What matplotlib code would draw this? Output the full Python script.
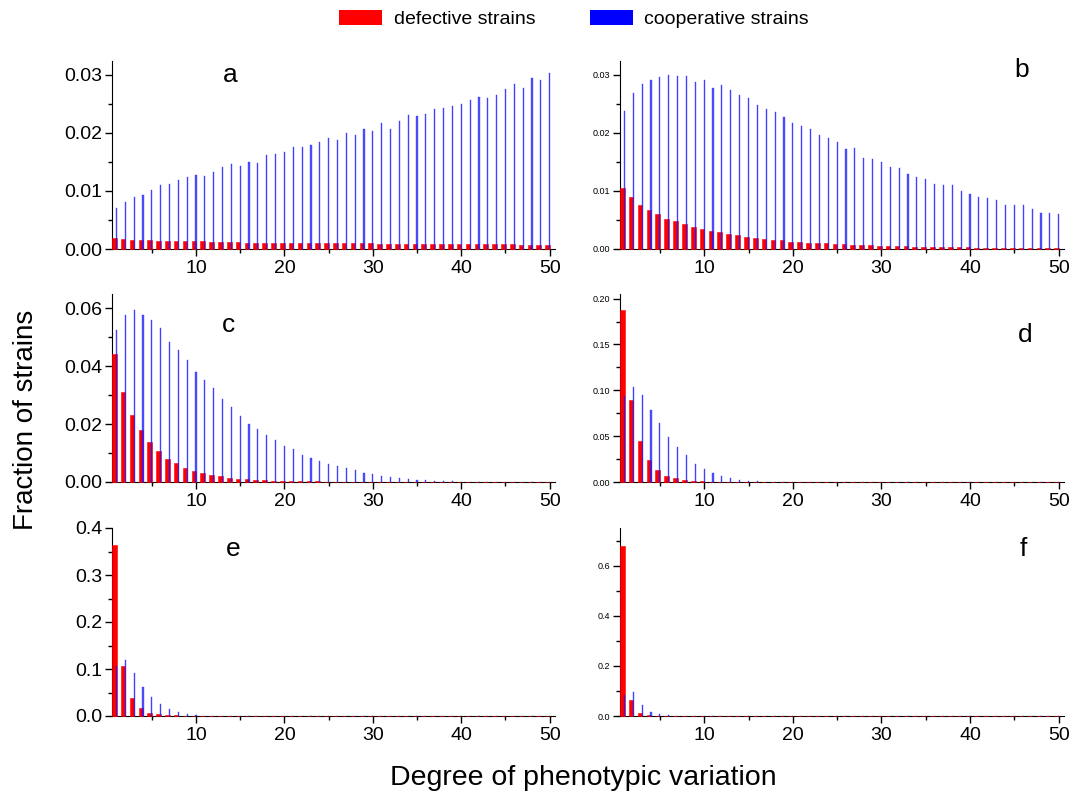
import matplotlib
matplotlib.use("Agg")
import matplotlib.pyplot as plt
from matplotlib.patches import Patch
from matplotlib.ticker import MultipleLocator
import numpy as np

plt.rcParams['font.family'] = ['Liberation Sans', 'DejaVu Sans']

degree = list(range(1, 51))

# Panel a
a_def = [0.00184, 0.00178, 0.00161, 0.00155, 0.00155, 0.00144, 0.00144, 0.00132, 0.00132, 0.00132,
         0.00132, 0.00120, 0.00120, 0.00120, 0.00120, 0.00112, 0.00112, 0.00112, 0.00112, 0.00110,
         0.00103, 0.00103, 0.00103, 0.00103, 0.00103, 0.00100, 0.00100, 0.00098, 0.00098, 0.00096,
         0.00092, 0.00092, 0.00092, 0.00092, 0.00090, 0.00090, 0.00088, 0.00088, 0.00086, 0.00086,
         0.00082, 0.00082, 0.00080, 0.00080, 0.00078, 0.00078, 0.00076, 0.00076, 0.00075, 0.00075]
a_coop = [0.00713, 0.00810, 0.00897, 0.00937, 0.01023, 0.01103, 0.01126, 0.01184, 0.01241, 0.01270,
          0.01264, 0.01328, 0.01408, 0.01466, 0.01437, 0.01506, 0.01489, 0.01621, 0.01638, 0.01678,
          0.01759, 0.01759, 0.01787, 0.01845, 0.01914, 0.01885, 0.02006, 0.01971, 0.02063, 0.02040,
          0.02178, 0.02063, 0.02207, 0.02310, 0.02299, 0.02328, 0.02420, 0.02431, 0.02471, 0.02506,
          0.02563, 0.02626, 0.02609, 0.02661, 0.02764, 0.02845, 0.02770, 0.02954, 0.02908, 0.03029]

# Panel b
b_def = [0.01046, 0.00902, 0.00764, 0.00678, 0.00603, 0.00523, 0.00477, 0.00437, 0.00385, 0.00345,
         0.00316, 0.00287, 0.00253, 0.00236, 0.00207, 0.00195, 0.00178, 0.00161, 0.00149, 0.00126,
         0.00115, 0.00103, 0.00098, 0.00098, 0.00080, 0.00080, 0.00075, 0.00063, 0.00063, 0.00052,
         0.00052, 0.00046, 0.00046, 0.00040, 0.00040, 0.00040, 0.00034, 0.00029, 0.00029, 0.00029,
         0.00025, 0.00025, 0.00023, 0.00023, 0.00021, 0.00021, 0.00019, 0.00019, 0.00017, 0.00017]
b_coop = [0.02385, 0.02690, 0.02850, 0.02914, 0.02966, 0.03000, 0.02983, 0.02989, 0.02885, 0.02920,
          0.02776, 0.02822, 0.02736, 0.02655, 0.02598, 0.02489, 0.02414, 0.02368, 0.02270, 0.02178,
          0.02126, 0.02075, 0.01971, 0.01920, 0.01845, 0.01730, 0.01741, 0.01569, 0.01546, 0.01506,
          0.01414, 0.01391, 0.01293, 0.01241, 0.01213, 0.01115, 0.01098, 0.01103, 0.00994, 0.00954,
          0.00902, 0.00885, 0.00845, 0.00764, 0.00764, 0.00753, 0.00695, 0.00626, 0.00626, 0.00609]

# Panel c
c_def = [0.0442, 0.0310, 0.0231, 0.0181, 0.0137, 0.0106, 0.0081, 0.0065, 0.0048, 0.0039,
         0.0031, 0.0024, 0.0020, 0.0014, 0.0012, 0.0009, 0.0008, 0.0006, 0.0005, 0.0005,
         0.0003, 0.0003, 0.0002, 0.0002, 0.00015, 0.00015, 0.0001, 0.0001, 0.0001, 0.00008,
         0.00008, 0.00006, 0.00006, 0.00005, 0.00005, 0.00004, 0.00004, 0.00003, 0.00003, 0.00003,
         0.00002, 0.00002, 0.00002, 0.00002, 0.00001, 0.00001, 0.00001, 0.00001, 0.00001, 0.00001]
c_coop = [0.0525, 0.0576, 0.0594, 0.0577, 0.0559, 0.0531, 0.0484, 0.0458, 0.0421, 0.0379,
          0.0351, 0.0326, 0.0288, 0.0258, 0.0227, 0.0202, 0.0182, 0.0163, 0.0146, 0.0123,
          0.0114, 0.0092, 0.0084, 0.0072, 0.0062, 0.0054, 0.0048, 0.0040, 0.0031, 0.0027,
          0.0022, 0.0017, 0.0015, 0.0012, 0.0008, 0.0006, 0.0005, 0.0003, 0.0002, 0.00015,
          0.0001, 0.0001, 0.00008, 0.00006, 0.00005, 0.00004, 0.00003, 0.00002, 0.00002, 0.00001]

# Panel d
d_def = [0.1876, 0.0889, 0.0452, 0.0237, 0.0128, 0.0069, 0.0040, 0.0022, 0.0011, 0.0007,
         0.0004, 0.0002, 0.0001, 0.0001, 0.00005] + [0.00001] * 35
d_coop = [0.0940, 0.1035, 0.0947, 0.0790, 0.0645, 0.0488, 0.0379, 0.0291, 0.0197, 0.0142,
          0.0098, 0.0062, 0.0044, 0.0026, 0.0015, 0.0007, 0.0004, 0.0002, 0.0001, 0.00005] + [0.00001] * 30

# Panel e
e_def = [0.364, 0.107, 0.039, 0.016, 0.007, 0.004, 0.002, 0.0015, 0.0008, 0.0004] + [0.00001] * 40
e_coop = [0.106, 0.119, 0.092, 0.062, 0.040, 0.026, 0.014, 0.0085, 0.004, 0.002,
          0.001, 0.0005] + [0.00001] * 38

# Panel f
f_def = [0.679, 0.063, 0.013, 0.004, 0.001, 0.0005] + [0.00001] * 44
f_coop = [0.083, 0.095, 0.043, 0.016, 0.0066, 0.002, 0.001, 0.0005] + [0.00001] * 42

panels = [
    ("a", a_def, a_coop, 0.0324, 0.01, 0.005, "%.2f", 14, (0.266, 0.925)),
    ("b", b_def, b_coop, 0.0324, 0.01, 0.005, "%.2f", 6.5, (0.905, 0.95)),
    ("c", c_def, c_coop, 0.065, 0.02, 0.01, "%.2f", 14, (0.262, 0.835)),
    ("d", d_def, d_coop, 0.205, 0.05, 0.025, "%.2f", 6.5, (0.912, 0.78)),
    ("e", e_def, e_coop, 0.40, 0.1, 0.05, "%.1f", 14, (0.273, 0.89)),
    ("f", f_def, f_coop, 0.75, 0.2, 0.1, "%.1f", 6.5, (0.908, 0.89)),
]

W, H = 1084, 796
fig = plt.figure(figsize=(W / 100, H / 100), dpi=100)

lefts = [112, 620]
widths = [443, 444]
bottoms = [249, 482, 716]
ph = 188

x = np.array(degree)
for i, (lab, dfv, cov, ymax, maj, mnr, fmt, yfs, lpos) in enumerate(panels):
    col = i % 2
    row = i // 2
    ax = fig.add_axes([lefts[col] / W, 1 - bottoms[row] / H, widths[col] / W, ph / H])
    ax.bar(x - 0.5, dfv, width=0.52, align='edge', color='#ff0000',
           edgecolor='#ff0000', linewidth=0.4, zorder=3, clip_on=False)
    ax.bar(x, cov, width=0.13, color='#1a1aff', alpha=0.75,
           edgecolor='#1a1aff', linewidth=0.3, zorder=4, clip_on=False)
    ax.set_xlim(0.5, 50.6)
    ax.set_ylim(0, ymax)
    ax.spines['top'].set_visible(False)
    ax.spines['right'].set_visible(False)
    ax.xaxis.set_major_locator(MultipleLocator(10))
    ax.xaxis.set_minor_locator(MultipleLocator(5))
    ax.yaxis.set_major_locator(MultipleLocator(maj))
    ax.yaxis.set_minor_locator(MultipleLocator(mnr))
    ax.yaxis.set_major_formatter(plt.FormatStrFormatter(fmt))
    ax.tick_params(axis='x', which='major', labelsize=14, length=5, width=1, direction='out', pad=3)
    ax.tick_params(axis='x', which='minor', length=3, width=1, direction='out')
    ax.tick_params(axis='y', which='major', labelsize=yfs, length=5, width=1, direction='out', pad=2)
    ax.tick_params(axis='y', which='minor', length=3, width=1, direction='out')
    ax.text(lpos[0], lpos[1], lab, transform=ax.transAxes, fontsize=19,
            ha='center', va='center')

fig.text(26 / W, 1 - 420 / H, "Fraction of strains", rotation=90, fontsize=20,
         ha='center', va='center')
fig.text(583 / W, 1 - 778 / H, "Degree of phenotypic variation", fontsize=20.5,
         ha='center', va='center')

handles = [Patch(facecolor='#ff0000', edgecolor='none'), Patch(facecolor='#0000ff', edgecolor='none')]
fig.legend(handles, ["defective strains", "cooperative strains"], loc='center',
           bbox_to_anchor=(574 / W, 1 - 19 / H), ncol=2, frameon=False, fontsize=14,
           handlelength=2.2, handleheight=0.78, handletextpad=0.6, columnspacing=2.8,
           borderpad=0.2)

fig.savefig("out.png", dpi=100)
